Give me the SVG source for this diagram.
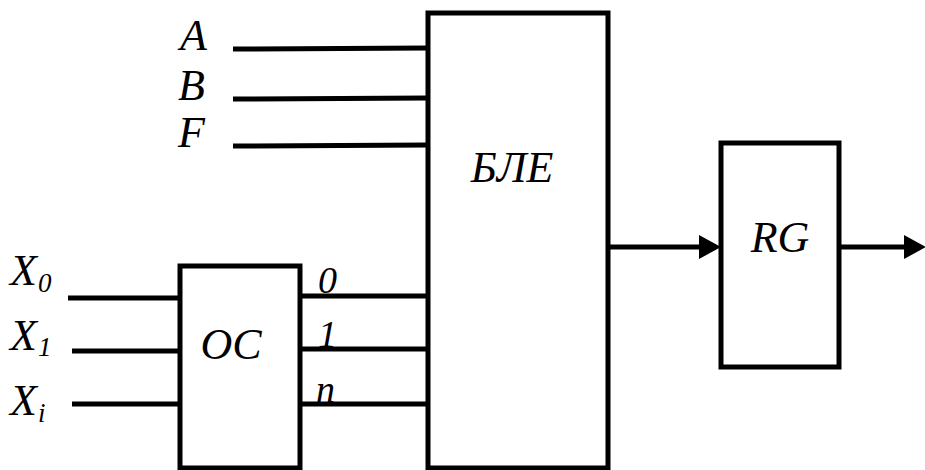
<svg xmlns="http://www.w3.org/2000/svg" width="925" height="470" viewBox="0 0 925 470">
<defs>
<style>
.box{fill:#fff;stroke:#000;stroke-width:5}
.w{stroke:#000;stroke-width:5;fill:none}
.t{font-family:"Liberation Serif","Times New Roman",serif;font-style:italic;font-size:44px;fill:#000}
.s{font-size:27px}
.l{font-family:"Liberation Serif","Times New Roman",serif;font-style:italic;font-size:38px;fill:#000}
</style>
</defs>
<g id="connectors">
<line class="w" x1="233" y1="49" x2="428" y2="48"/>
<line class="w" x1="233" y1="99" x2="428" y2="98"/>
<line class="w" x1="233" y1="146" x2="428" y2="145"/>
<line class="w" x1="68" y1="298" x2="180" y2="298"/>
<line class="w" x1="72" y1="351" x2="180" y2="351"/>
<line class="w" x1="72" y1="404" x2="180" y2="404"/>
<line class="w" x1="300" y1="296" x2="428" y2="296"/>
<line class="w" x1="302" y1="349" x2="428" y2="349"/>
<line class="w" x1="300" y1="404" x2="428" y2="404"/>
<line class="w" x1="608" y1="247" x2="700" y2="247"/>
<path d="M699,235 L721,247 L699,259 Z" fill="#000"/>
<line class="w" x1="839" y1="247" x2="905" y2="247"/>
<path d="M904,235 L926,247 L904,259 Z" fill="#000"/>
</g>
<g id="labels">
<text class="t" x="180" y="50">A</text>
<text class="t" x="178" y="100">B</text>
<text class="t" x="178" y="147">F</text>
<text class="t" x="10" y="285">X<tspan class="s" dx="1" dy="7">0</tspan></text>
<text class="t" x="10" y="350">X<tspan class="s" dx="1" dy="6">1</tspan></text>
<text class="t" x="10" y="415">X<tspan class="s" dx="1" dy="7">i</tspan></text>
<text class="l" x="318" y="293">0</text>
<text class="l" x="318" y="347">1</text>
<text class="l" x="316" y="402">n</text>
</g>
<g id="OC">
<rect class="box" x="180" y="266" width="120" height="202"/>
<text class="t" x="231" y="359" text-anchor="middle">OC</text>
</g>
<g id="BLE">
<rect class="box" x="428" y="13" width="180" height="455"/>
<text class="t" x="512" y="182" text-anchor="middle">БЛЕ</text>
</g>
<g id="RG">
<rect class="box" x="721" y="143" width="118" height="224"/>
<text class="t" x="780" y="252" text-anchor="middle">RG</text>
</g>
</svg>
